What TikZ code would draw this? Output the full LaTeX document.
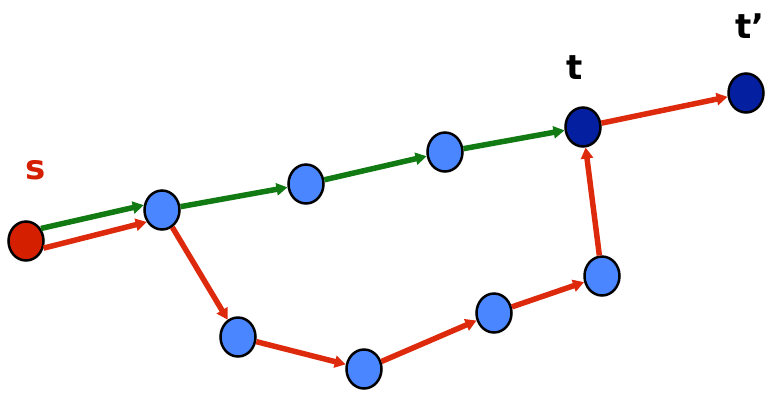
\documentclass[tikz,border=0pt]{standalone}
\usepackage{fontspec}
\setsansfont{DejaVu Sans}
\usepackage{tikz}
\usetikzlibrary{shapes.geometric,arrows.meta}

\definecolor{nodeblue}{HTML}{4A86FF}
\definecolor{termblue}{HTML}{0420A0}
\definecolor{srcred}{HTML}{D42000}
\definecolor{pathred}{HTML}{DE2A0C}
\definecolor{pathgreen}{HTML}{127A12}

\begin{document}
\begin{tikzpicture}[
    x=1pt, y=-1pt,
    vertex/.style={ellipse, draw=black, line width=2.5pt, minimum width=35pt, minimum height=39pt, inner sep=0pt, fill=nodeblue},
    lbl/.style={font=\sffamily\bfseries\fontsize{34}{34}\selectfont},
    redarrow/.style={-{Triangle[length=11pt,width=12pt]}, line width=5.5pt, draw=pathred},
    greenarrow/.style={-{Triangle[length=11pt,width=12pt]}, line width=5.5pt, draw=pathgreen}
]
\useasboundingbox (0,0) rectangle (769,392);

\node[vertex, fill=srcred] (s) at (26,241) {};
\node[vertex] (a) at (162,210) {};
\node[vertex] (b) at (306,184) {};
\node[vertex] (c) at (445,152) {};
\node[vertex, fill=termblue] (t) at (583,127) {};
\node[vertex, fill=termblue] (tp) at (746,93) {};
\node[vertex] (d) at (238,337) {};
\node[vertex] (e) at (364,369) {};
\node[vertex] (f) at (494,313) {};
\node[vertex] (g) at (602,276) {};

\node[lbl, text=srcred] (slbl) at (36,170) {s};
\node[lbl] (tlbl) at (575,68) {t};
\node[lbl] (tplbl) at (750,26) {t'};

% green path
\draw[greenarrow] (s.40) -- (a.165);
\draw[greenarrow] (a) -- (b);
\draw[greenarrow] (b) -- (c);
\draw[greenarrow] (c) -- (t);

% red path
\draw[redarrow] (s.-22) -- (a.218);
\draw[redarrow] (a) -- (d);
\draw[redarrow] (d) -- (e);
\draw[redarrow] (e) -- (f);
\draw[redarrow] (f) -- (g);
\draw[redarrow] (g) -- (t);
\draw[redarrow] (t) -- (tp);
\end{tikzpicture}
\end{document}
